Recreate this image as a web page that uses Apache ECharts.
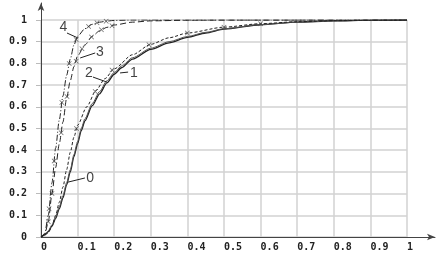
<!DOCTYPE html>
<html>
<head>
<meta charset="utf-8">
<script src="https://cdn.jsdelivr.net/npm/echarts@6/dist/echarts.min.js"></script>
<style>html,body{margin:0;padding:0;background:#fff}#c{width:438px;height:256px}</style>
</head>
<body>
<div id="c"></div>
<script>
// curve data [x, y]
const curve0 = [[0,0],[0.01,0.01],[0.02,0.025],[0.03,0.05],[0.04,0.085],[0.05,0.13],[0.06,0.18],[0.07,0.24],[0.08,0.30],[0.09,0.37],[0.1,0.43],[0.11,0.49],[0.12,0.535],[0.14,0.605],[0.16,0.66],[0.18,0.71],[0.2,0.75],[0.22,0.78],[0.25,0.82],[0.3,0.865],[0.35,0.895],[0.4,0.92],[0.45,0.94],[0.5,0.958],[0.6,0.978],[0.7,0.99],[0.8,0.996],[0.9,0.999],[1,1]];
const curve1 = [[0,0],[0.01,0.011],[0.02,0.028],[0.03,0.056],[0.04,0.093],[0.05,0.14],[0.06,0.19],[0.07,0.25],[0.08,0.31],[0.09,0.38],[0.1,0.44],[0.11,0.5],[0.12,0.545],[0.14,0.615],[0.16,0.67],[0.18,0.72],[0.2,0.758],[0.22,0.788],[0.25,0.826],[0.3,0.87],[0.35,0.9],[0.4,0.924],[0.45,0.943],[0.5,0.96],[0.6,0.979],[0.7,0.99],[0.8,0.996],[0.9,0.999],[1,1]];
const curve2 = [[0,0],[0.01,0.008],[0.02,0.02],[0.03,0.05],[0.04,0.1],[0.05,0.16],[0.06,0.23],[0.07,0.31],[0.08,0.39],[0.09,0.46],[0.1,0.515],[0.125,0.6],[0.15,0.675],[0.175,0.73],[0.2,0.775],[0.25,0.84],[0.3,0.888],[0.35,0.918],[0.4,0.94],[0.5,0.967],[0.6,0.983],[0.7,0.992],[0.8,0.997],[0.9,0.999],[1,1]];
const curve3 = [[0,0],[0.01,0.01],[0.02,0.07],[0.03,0.2],[0.04,0.32],[0.05,0.43],[0.06,0.53],[0.07,0.64],[0.08,0.72],[0.09,0.785],[0.1,0.835],[0.12,0.885],[0.14,0.925],[0.16,0.95],[0.18,0.966],[0.2,0.977],[0.25,0.99],[0.3,0.996],[0.4,0.999],[0.5,1],[1,1]];
const curve4 = [[0,0],[0.01,0.015],[0.02,0.1],[0.03,0.25],[0.04,0.41],[0.05,0.54],[0.06,0.65],[0.07,0.745],[0.08,0.82],[0.09,0.885],[0.1,0.925],[0.12,0.96],[0.14,0.98],[0.16,0.99],[0.18,0.995],[0.2,0.998],[0.25,1],[1,1]];
// marker points
const marks2 = [[0.097,0.5],[0.148,0.67],[0.194,0.77],[0.295,0.886],[0.4,0.94],[0.5,0.967],[0.6,0.983]];
const marks3 = [[0.02,0.07],[0.03,0.2],[0.055,0.48],[0.071,0.648],[0.096,0.81],[0.112,0.868],[0.138,0.922],[0.165,0.955],[0.194,0.974]];
const marks4 = [[0.022,0.13],[0.036,0.35],[0.057,0.62],[0.077,0.8],[0.096,0.91],[0.13,0.97],[0.153,0.987],[0.178,0.994]];
// annotation labels and pointers
const labelNames = ['4','3','2','1','0'];
const labelPos = [[0.061,0.965],[0.161,0.85],[0.131,0.756],[0.254,0.756],[0.134,0.272]];
const pointers = [[[0.071,0.94],[0.101,0.917]],[[0.148,0.848],[0.107,0.825]],[[0.142,0.737],[0.18,0.714]],[[0.238,0.76],[0.216,0.756]],[[0.12,0.272],[0.074,0.253]]];

const X_PATH = 'path://M0,1L1,0L5,4L9,0L10,1L6,5L10,9L9,10L5,6L1,10L0,9L4,5Z';
const ink = '#222';

const chart = echarts.init(document.getElementById('c'), null, {renderer:'canvas'});
const lineS = (data, type, width, color) => ({
  type:'line', data, xAxisIndex:0, yAxisIndex:0, showSymbol:false, smooth:0.25, smoothMonotone:'x',
  lineStyle:{color, width, type}, silent:true, animation:false, z:3
});
const markS = (data) => ({
  type:'scatter', data, xAxisIndex:0, yAxisIndex:0, symbol:X_PATH, symbolSize:5,
  itemStyle:{color:'#444'}, silent:true, animation:false, z:4
});
chart.setOption({
  animation:false,
  backgroundColor:'#fff',
  grid:[
    {left:41, right:31, top:20, bottom:19},
    {left:41, right:3, top:3, bottom:19}
  ],
  xAxis:[
    {gridIndex:0, type:'value', min:0, max:1, interval:0.1,
     axisLine:{show:false}, axisTick:{show:false},
     splitLine:{show:true, lineStyle:{color:'#d2d2d2', width:1.5}},
     axisLabel:{align:'left', margin:5, color:'#222', fontFamily:'DejaVu Sans Mono', fontWeight:'bold', fontSize:10}},
    {gridIndex:1, type:'value', min:0, max:1,
     axisLine:{show:true, symbol:['none','arrow'], symbolSize:[5,8], lineStyle:{color:'#444', width:1}},
     axisTick:{show:false}, axisLabel:{show:false}, splitLine:{show:false}}
  ],
  yAxis:[
    {gridIndex:0, type:'value', min:0, max:1, interval:0.1,
     axisLine:{show:false}, axisTick:{show:true, length:5, lineStyle:{color:'#bbb'}},
     splitLine:{show:true, lineStyle:{color:'#d2d2d2', width:1.5}},
     axisLabel:{margin:14, color:'#222', fontFamily:'DejaVu Sans Mono', fontWeight:'bold', fontSize:10}},
    {gridIndex:1, type:'value', min:0, max:1,
     axisLine:{show:true, symbol:['none','arrow'], symbolSize:[5,8], lineStyle:{color:'#444', width:1}},
     axisTick:{show:false}, axisLabel:{show:false}, splitLine:{show:false}}
  ],
  series:[
    lineS(curve0, 'solid', 1.3, ink),
    lineS(curve1, 'solid', 1, '#555'),
    lineS(curve2, [3,2], 1, ink),
    lineS(curve3, [6,3], 1, ink),
    lineS(curve4, [6,2,1,2], 1, ink),
    markS(marks2), markS(marks3), markS(marks4),
    {type:'lines', coordinateSystem:'cartesian2d', xAxisIndex:0, yAxisIndex:0, silent:true, animation:false, z:5,
     lineStyle:{color:ink, width:1, opacity:1},
     data: pointers.map(p => ({coords:p}))},
    {type:'scatter', xAxisIndex:0, yAxisIndex:0, symbolSize:0, silent:true, animation:false, z:6,
     data: labelPos.map((p,i) => ({name:labelNames[i], value:p})),
     label:{show:true, position:'inside', formatter:'{b}', color:'#111', fontFamily:'Liberation Sans', fontSize:14}}
  ]
});
</script>
</body>
</html>
